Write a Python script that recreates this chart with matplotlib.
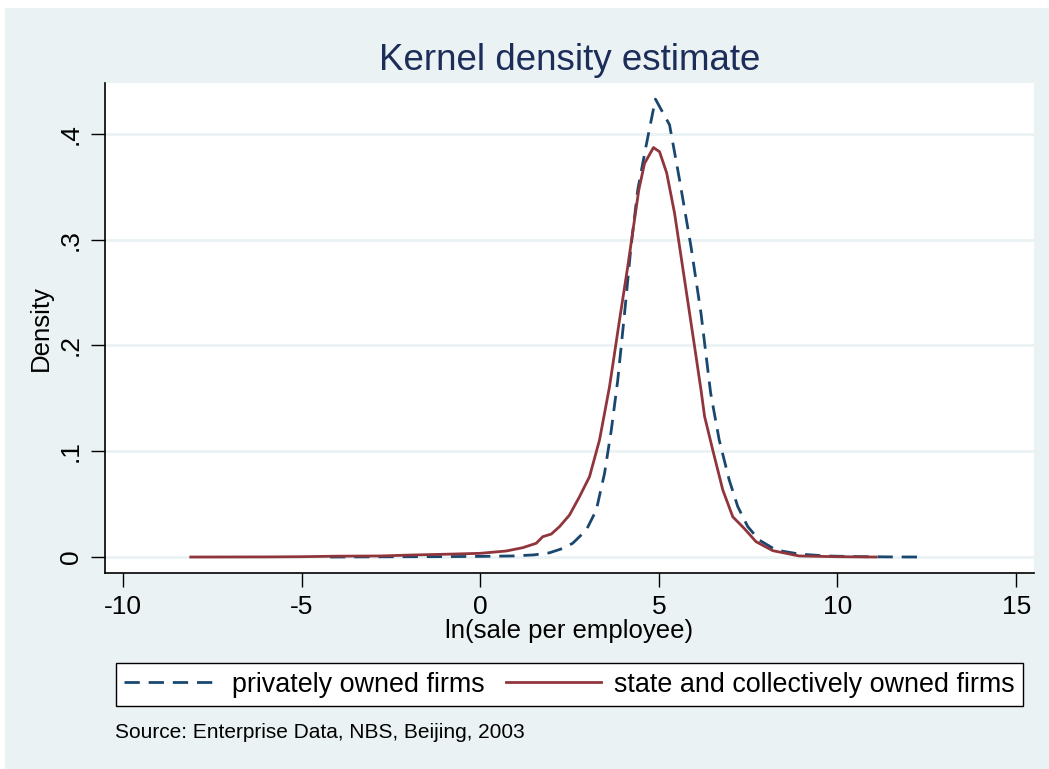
import matplotlib
matplotlib.use('Agg')
import matplotlib.pyplot as plt
from matplotlib.patches import Rectangle

plt.rcParams['font.family'] = ['Liberation Sans', 'DejaVu Sans']
plt.rcParams['axes.unicode_minus'] = False

# kernel density, privately owned firms
x_private = [-4.2, -3, -2, -1, 0, 0.91, 1.5, 1.94, 2.3, 2.59, 2.97, 3.25, 3.48, 3.67,
             3.85, 4.04, 4.22, 4.41, 4.64, 4.905, 5.30, 5.58, 5.90, 6.18, 6.45, 6.69,
             6.97, 7.21, 7.49, 7.81, 8.28, 8.93, 9.68, 10.5, 11.5, 12.35]
y_private = [0.0, 0.0002, 0.0003, 0.0004, 0.0006, 0.001, 0.002, 0.004, 0.008, 0.013,
             0.0255, 0.0444, 0.079, 0.120, 0.167, 0.230, 0.293, 0.347, 0.388, 0.4328,
             0.4085, 0.3565, 0.2934, 0.2304, 0.155, 0.1106, 0.0728, 0.0476, 0.0287,
             0.016, 0.0066, 0.0028, 0.001, 0.0004, 0.0001, 0.0]

# kernel density, state and collectively owned firms
x_state = [-8.1, -6, -5, -4, -2.8, -1.9, -0.77, 0.0, 0.73, 1.19, 1.57, 1.75, 1.99, 2.22,
           2.50, 2.78, 3.06, 3.34, 3.62, 3.90, 4.13, 4.32, 4.44, 4.60, 4.85, 5.02, 5.22,
           5.44, 5.72, 6.0, 6.18, 6.28, 6.51, 6.79, 7.07, 7.39, 7.72, 8.19, 8.93, 10.0, 11.08]
y_state = [0.0, 0.0001, 0.0003, 0.0008, 0.001, 0.0019, 0.0028, 0.0035, 0.0057, 0.0088,
           0.013, 0.0192, 0.0217, 0.0287, 0.0397, 0.057, 0.0759, 0.1106, 0.161, 0.224,
           0.2745, 0.319, 0.347, 0.372, 0.387, 0.383, 0.363, 0.325, 0.262, 0.199, 0.158,
           0.133, 0.101, 0.0634, 0.038, 0.027, 0.0145, 0.006, 0.001, 0.0003, 0.0]

xticks = [-10, -5, 0, 5, 10, 15]
yticks = [0, 0.1, 0.2, 0.3, 0.4]
ytick_labels = ['0', '.1', '.2', '.3', '.4']

W, H = 1049, 769
bg = '#EAF2F3'
fig = plt.figure(figsize=(W / 100, H / 100), dpi=100)
fig.patch.set_facecolor('white')
fig.patches.append(Rectangle((5 / W, 0), 1, 1 - 8 / H, transform=fig.transFigure,
                             facecolor=bg, edgecolor='none', zorder=-10))

ax = fig.add_axes([105 / W, 1 - 573 / H, (1034 - 105) / W, (573 - 83) / H])
ax.set_facecolor('white')

ax.plot(x_private, y_private, color='#1a476f', lw=2.0, linestyle=(0, (5.5, 3.2)),
        label='privately owned firms')
ax.plot(x_state, y_state, color='#90353b', lw=2.0,
        label='state and collectively owned firms')

ax.set_xlim(-10.5, 15.5)
ax.set_ylim(-0.0151, 0.448)
ax.set_xticks(xticks)
ax.set_yticks(yticks)
ax.set_yticklabels(ytick_labels, rotation=90, va='center')
ax.tick_params(axis='both', labelsize=19, length=10, width=1, direction='out', pad=6)
ax.grid(axis='y', color=bg, lw=2)
ax.set_axisbelow(True)
for s in ['top', 'right']:
    ax.spines[s].set_visible(False)
for s in ['left', 'bottom']:
    ax.spines[s].set_linewidth(1.2)

ax.set_xlabel('ln(sale per employee)', fontsize=18.5, labelpad=0)
ax.set_ylabel('Density', fontsize=18.5, labelpad=4)

fig.text(569.5 / W, 1 - 60 / H, 'Kernel density estimate', ha='center', va='center',
         fontsize=26.5, color='#1c2d5a')

leg = fig.legend(loc='center', bbox_to_anchor=(569.5 / W, 1 - 684.5 / H), ncol=2,
                 fontsize=19.4, frameon=True, fancybox=False, edgecolor='black',
                 framealpha=1, handlelength=3.5, handletextpad=0.5,
                 columnspacing=0.8, borderpad=0.3, borderaxespad=0)
leg.get_frame().set_linewidth(1.0)

fig.text(115 / W, 1 - 733 / H, 'Source: Enterprise Data, NBS, Beijing, 2003',
         ha='left', va='center', fontsize=15)

fig.savefig('out.png', dpi=100, facecolor=fig.get_facecolor())
